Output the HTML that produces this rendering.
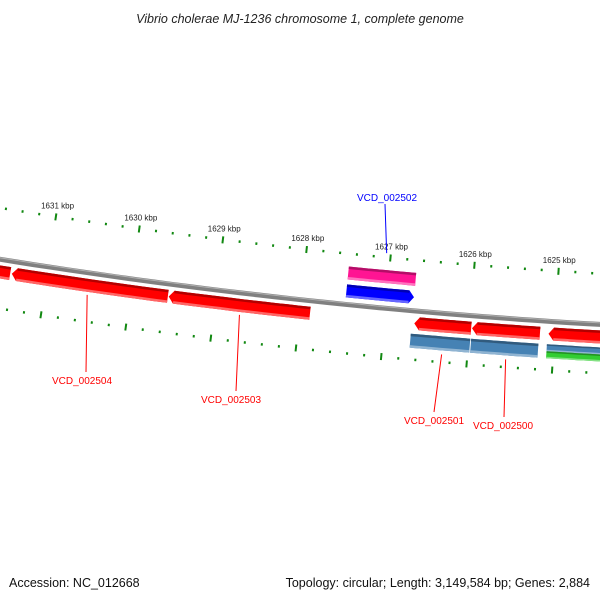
<!DOCTYPE html>
<html><head><meta charset="utf-8"><style>
html,body{margin:0;padding:0;background:#fff}
svg{display:block}
text{font-family:"Liberation Sans","DejaVu Sans",sans-serif}
</style></head><body>
<svg id="map" width="600" height="600" viewBox="0 0 600 600" xmlns="http://www.w3.org/2000/svg">
<text x="300" y="23" text-anchor="middle" font-size="12.5" font-style="italic" fill="#222">Vibrio cholerae MJ-1236 chromosome 1, complete genome</text>
<text x="9" y="587" font-size="12.5" fill="#111">Accession: NC_012668</text>
<text x="590" y="587" text-anchor="end" font-size="12.5" fill="#111">Topology: circular; Length: 3,149,584 bp; Genes: 2,884</text>
<g id="ticks"></g><g id="backbone"></g><g id="genes"></g><g id="labels"></g>
</svg>
<script>
const tickLabels = [1625,1626,1627,1628,1629,1630,1631];
const geneNames = ["", "VCD_002504","VCD_002503","VCD_002502","VCD_002502b","VCD_002501","VCD_002500","", "", "", "", ""];
const geneStart = [1631.9,1631.41,1629.55,1627.48,1627.48,1626.65,1625.97,1625.07,1626.68,1625.97,1625.08,1625.08];
const geneEnd   = [1631.43,1629.56,1627.88,1626.68,1626.68,1625.98,1625.17,1624.2,1625.98,1625.18,1624.2,1624.2];
const geneSlot  = ["rev","rev","rev","out1","out2","rev","rev","rev","rev2","rev2","rev2a","rev2b"];
const geneColor = ["#ff0000","#ff0000","#ff0000","#ff1493","#0000ff","#ff0000","#ff0000","#ff0000","#4682b4","#4682b4","#4682b4","#32cd32"];
const geneArrow = ["none","left","left","none","right","left","left","left","none","none","none","none"];

const NS="http://www.w3.org/2000/svg";
const CX=936, CY=-5566, R=5900, PHI0=0.0934, K=0.01441;
function phi(k){return PHI0+(k-1627)*K;}
function pt(k,r){const f=phi(k);return [CX-r*Math.sin(f), CY+r*Math.cos(f)];}
function mk(tag,attrs,parent){const e=document.createElementNS(NS,tag);for(const a in attrs)e.setAttribute(a,attrs[a]);parent.appendChild(e);return e;}
const slots={rev:[R+6,R+19],rev2:[R+23,R+37],rev2a:[R+23,R+30],rev2b:[R+30,R+37],out1:[R-38,R-25],out2:[R-20,R-7]};
function arcPts(k1,k2,r,n){const a=[];for(let i=0;i<=n;i++){a.push(pt(k1+(k2-k1)*i/n,r));}return a;}
function band(k1,k2,r1,r2,arrow){
  // k1 > k2 (k1 is left)
  const ah=0.06;let a=k1,b=k2;
  if(arrow==="left")a=k1-ah; if(arrow==="right")b=k2+ah;
  let p=arcPts(a,b,r1,12);
  if(arrow==="right")p.push(pt(k2,(r1+r2)/2));
  p=p.concat(arcPts(b,a,r2,12));
  if(arrow==="left")p.push(pt(k1,(r1+r2)/2));
  return "M"+p.map(q=>q[0].toFixed(1)+","+q[1].toFixed(1)).join("L")+"Z";
}
function shade(c,f){const n=parseInt(c.slice(1),16);let r=n>>16,g=(n>>8)&255,b=n&255;
  const m=v=>Math.max(0,Math.min(255,Math.round(f<0?v*(1+f):v+(255-v)*f)));return `rgb(${m(r)},${m(g)},${m(b)})`;}

// ticks
const tg=document.getElementById("ticks");
for(let i=0;i<=39;i++){
  const k=1624.2+i*0.2;const major=Math.abs(k-Math.round(k))<0.01;
  [[R-47,major?-7:-2.5],[R+45,major?7:2.5]].forEach(([r,l],j)=>{
    const r0=major?r:(r+(l<0?-2.5:2.5)); const p1=pt(k,r0),p2=pt(k,r0+l);
    const t=mk("line",{x1:p1[0],y1:p1[1],x2:p2[0],y2:p2[1],stroke:"#118811","stroke-width":2},tg);
    
    
  });
}
tickLabels.forEach(k=>{const p=pt(k,R-62);
  const t=mk("text",{x:p[0],y:p[1]+3,"text-anchor":"middle","font-size":"8",fill:"#222"},tg);t.textContent=k+" kbp";
  
  });

// backbone
const bg=document.getElementById("backbone");
function arcPath(k1,k2,r){return "M"+arcPts(k1,k2,r,40).map(q=>q[0].toFixed(1)+","+q[1].toFixed(1)).join("L");}
const bb=mk("path",{d:arcPath(1632.2,1624.0,R),stroke:"#808080","stroke-width":5,fill:"none"},bg);


const bb2=mk("path",{d:arcPath(1632.2,1624.0,R-1.5),stroke:"#b0b0b0","stroke-width":1,fill:"none"},bg);



// genes
const gg=document.getElementById("genes");
geneStart.forEach((s,i)=>{
  const [r1,r2]=slots[geneSlot[i]];const c=geneColor[i];
  const g=mk("g",{},gg);
  
  
  mk("path",{d:band(s,geneEnd[i],r1,r2,geneArrow[i]),fill:c},g);
  const th=(r2-r1)>9?2.5:1.5;
  mk("path",{d:band(s-(geneArrow[i]==="left"?0.06:0),geneEnd[i]+(geneArrow[i]==="right"?0.06:0),r1,r1+th,"none"),fill:shade(c,-0.3)},g);
  mk("path",{d:band(s-(geneArrow[i]==="left"?0.06:0),geneEnd[i]+(geneArrow[i]==="right"?0.06:0),r2-th,r2,"none"),fill:shade(c,0.4)},g);
});

// labels
const lg=document.getElementById("labels");
const labs=[["VCD_002504",1630.5,82,384,"#ff0000",R+22,86,372],["VCD_002503",1628.7,231,403,"#ff0000",R+22,236,391],
 ["VCD_002502",1627.05,387,201,"#0000ff",R-55,385,204],["VCD_002501",1626.3,434,424,"#ff0000",R+41,434,412],["VCD_002500",1625.55,503,429,"#ff0000",R+41,504,417]];
labs.forEach(([n,k,x,y,c,r,lx,ly])=>{
  const p=pt(k,r);
  const l=mk("line",{x1:p[0],y1:p[1],x2:lx,y2:ly,stroke:c,"stroke-width":1},lg);
  
  
  const t=mk("text",{x:x,y:y,"text-anchor":"middle","font-size":"10",fill:c},lg);t.textContent=n;
  
  
});
</script>
</body></html>
